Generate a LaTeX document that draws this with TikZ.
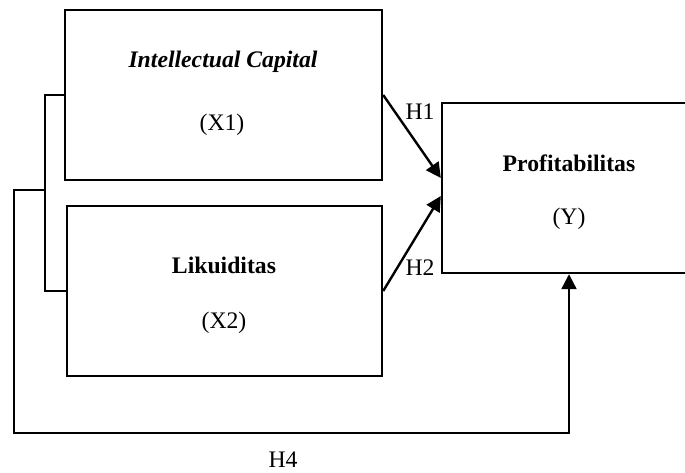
\documentclass[tikz,border=0pt]{standalone}
\usepackage{fontspec}
\setmainfont{Liberation Serif}
\usetikzlibrary{arrows.meta}
\begin{document}
\begin{tikzpicture}[x=1pt,y=-1pt,
  box/.style={draw,line width=2.4pt,inner sep=0pt},
  conn/.style={line width=2.4pt},
  arr/.style={line width=2.4pt,-{Triangle[length=15pt,width=15pt]}},
  lbl/.style={font=\fontsize{23.7}{28}\selectfont,inner sep=0pt}]
\useasboundingbox (0,0) rectangle (685,472);
\node[box,minimum width=317pt,minimum height=170pt] (x1) at (223.5,95) {};
\node[box,minimum width=315pt,minimum height=170pt] (x2) at (224.5,291) {};
\node[box,minimum width=254pt,minimum height=170pt] (yb) at (569,188) {};
\node[lbl,font=\fontsize{23.7}{28}\selectfont\bfseries\itshape] (t1) at (223,62) {Intellectual Capital};
\node[lbl] (t1b) at (222,125) {(X1)};
\node[lbl,font=\fontsize{23.7}{28}\selectfont\bfseries] (t2) at (224,265) {Likuiditas};
\node[lbl] (t2b) at (224,323) {(X2)};
\node[lbl,font=\fontsize{23.7}{28}\selectfont\bfseries] (t3) at (569,163) {Profitabilitas};
\node[lbl] (t3b) at (569,219) {(Y)};
\node[lbl] (h1) at (420,112) {H1};
\node[lbl] (h2) at (420,268) {H2};
\node[lbl] (h4) at (283,460) {H4};
\draw[conn] (x1.west) -- ++(-19,0) |- (x2.west);
\coordinate (j) at (46,190);
\draw[arr] (j) -- (14,190) -- (14,433) -| (yb.south);
\draw[arr] (x1.east) -- ([yshift=10pt]yb.west);
\draw[arr] (x2.east) -- ([yshift=-8pt]yb.west);
\end{tikzpicture}
\end{document}
